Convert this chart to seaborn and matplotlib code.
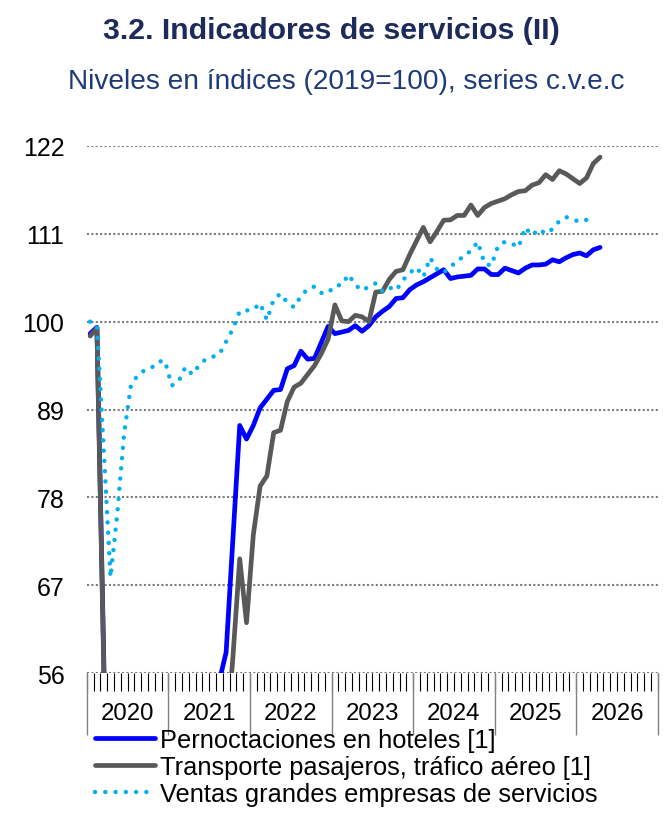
import numpy as np
import pandas as pd
import matplotlib.pyplot as plt
import seaborn as sns

# Series mensuales desde ene-2020 (indices 2019=100, cvec)
hoteles = [98.5, 99.3, 58, 2, 3, 10, 30, 38, 30, 22, 12, 14, 12, 12, 14, 16, 20, 28, 42, 55,
           58.6, 72.8, 87, 85.3, 87, 89.2, 90.3, 91.4, 91.5, 94.1,
           94.5, 96.3, 95.3, 95.4, 97.4, 99.4, 98.5, 98.7, 98.9, 99.5,
           98.8, 99.5, 100.6, 101.3, 101.9, 102.9, 103, 104, 104.6, 105,
           105.5, 106, 106.5, 105.4, 105.6, 105.7, 105.8, 106.6, 106.6, 105.9,
           105.9, 106.7, 106.4, 106.1, 106.7, 107.1, 107.1, 107.2, 107.75, 107.5,
           108, 108.4, 108.6, 108.25, 109, 109.3]
aereo = [98.2, 99.2, 57, 3, 3, 8, 25, 30, 25, 18, 12, 14, 12, 10, 12, 15, 18, 25, 35, 42,
         47, 58, 70.3, 62.3, 73.3, 79.4, 80.7, 86.1, 86.4, 90,
         91.8, 92.3, 93.4, 94.5, 96, 97.8, 102.1, 100.1, 100, 100.8,
         100.6, 100, 103.7, 103.8, 105.3, 106.3, 106.5, 108.4, 110.1, 111.8,
         110, 111.3, 112.7, 112.75, 113.3, 113.3, 114.6, 113.3, 114.3, 114.8,
         115.1, 115.4, 115.9, 116.3, 116.4, 117.1, 117.4, 118.4, 117.8, 118.9,
         118.5, 117.9, 117.3, 118, 119.8, 120.6]
ventas = [100, 99.6, 84, 68, 76, 86, 92, 93.3, 93.9, 94.2, 95, 95.1, 92, 92.5, 94.3, 93.4, 94.5, 95.3, 95.6, 95.9,
          97.5, 99.1, 101.3, 101.4, 101.5, 102.3, 100.2, 102.8, 103.5, 102.4,
          101.8, 103.2, 104.1, 104.4, 103.6, 103.6, 104.5, 104.6, 105.9, 104.6,
          103.9, 104.4, 104.8, 103.8, 104.3, 103.9, 105.2, 106.1, 106.8, 105.6,
          108, 106.6, 106.1, 107, 107.4, 108.4, 108.8, 110, 107.3, 107,
          109.5, 110, 109.8, 109.3, 111.8, 110.8, 111.6, 111, 111.6, 112.6,
          113.1, 112.8, 112.5, 112.75]
years = ["2020", "2021", "2022", "2023", "2024", "2025", "2026"]
yticks = [56, 67, 78, 89, 100, 111, 122]
labels = ["Pernoctaciones en hoteles [1]",
          "Transporte pasajeros, tráfico aéreo [1]",
          "Ventas grandes empresas de servicios"]

sns.set_style("white")
plt.rcParams['font.family'] = ['Liberation Sans', 'DejaVu Sans']

df_h = pd.DataFrame({'mes': np.arange(len(hoteles)), 'valor': hoteles})
df_a = pd.DataFrame({'mes': np.arange(len(aereo)), 'valor': aereo})
df_v = pd.DataFrame({'mes': np.arange(len(ventas)), 'valor': ventas})

fig = plt.figure(figsize=(6.63, 8.37), dpi=100)
ax = fig.add_axes([0.1308, 0.1947, 0.8615, 0.6297])

sns.lineplot(data=df_h, x='mes', y='valor', ax=ax, color='#0000FF', lw=3.4,
             label=labels[0], solid_joinstyle='round')
sns.lineplot(data=df_a, x='mes', y='valor', ax=ax, color='#595959', lw=3.4,
             label=labels[1], solid_joinstyle='round')
sns.lineplot(data=df_v, x='mes', y='valor', ax=ax, color='#00B0F0', lw=3.2,
             label=labels[2], linestyle=(0, (0.01, 2.3)), dash_capstyle='round')

n_months = 12 * len(years)
ax.set_xlim(-0.5, n_months - 0.5)
ax.set_ylim(56, 122)
ax.set_yticks(yticks)
ax.set_yticklabels([str(t) for t in yticks])
ax.yaxis.grid(True, color='#7a7a7a', linestyle=(0, (1, 1.1)), lw=1.5)
ax.xaxis.grid(False)
ax.set_axisbelow(True)
for s in ax.spines.values():
    s.set_visible(False)

# month ticks, year labels centred on each year
ax.xaxis.remove_overlapping_locs = False
ax.set_xticks(np.arange(-0.5, n_months, 1))
ax.set_xticklabels([])
ax.set_xticks(np.arange(len(years)) * 12 + 5.5, minor=True)
ax.set_xticklabels(years, minor=True)
ax.tick_params(axis='x', which='both', bottom=True, labelbottom=True)
ax.tick_params(axis='x', which='major', length=13, width=0.8, color='black', direction='out')
ax.tick_params(axis='x', which='minor', length=0, pad=21, labelsize=17.3, labelcolor='black')
ax.tick_params(axis='y', length=0, pad=16, labelsize=18, labelcolor='black')
# year separators
ax.vlines(np.arange(len(years) + 1) * 12 - 0.5, -0.118, 0, color='#808080', lw=1.0,
          transform=ax.get_xaxis_transform(), clip_on=False)

ax.set_xlabel('')
ax.set_ylabel('')

leg = ax.legend(loc='upper left', bbox_to_anchor=(95 / 663, 1 - 729 / 837),
                bbox_transform=fig.transFigure, frameon=False, fontsize=18.3,
                handlelength=2.35, handletextpad=0.2, labelspacing=0.12,
                borderpad=0, borderaxespad=0)
for t in leg.get_texts():
    t.set_color('black')

fig.text(0.5, 1 - 31 / 837, "3.2. Indicadores de servicios (II)", ha='center', va='center',
         fontsize=21.8, fontweight='bold', color='#1C2B5A')
fig.text(346 / 663, 1 - 82 / 837, "Niveles en índices (2019=100), series c.v.e.c", ha='center',
         va='center', fontsize=20.2, color='#1F3A78')

fig.savefig('out.png', dpi=100)
